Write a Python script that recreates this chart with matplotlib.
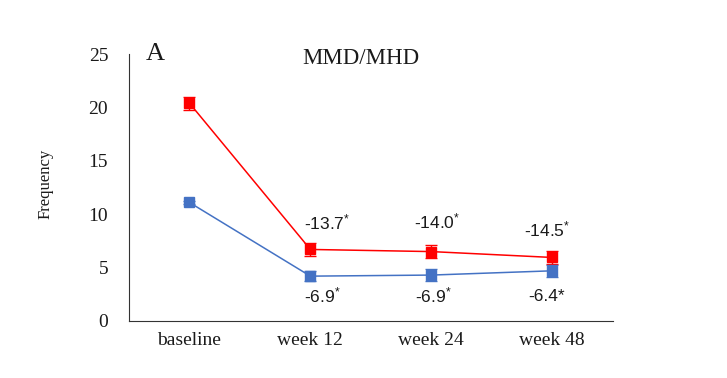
import numpy as np
from matplotlib import pyplot as plt

plt.rcParams['mathtext.fontset'] = 'custom'
plt.rcParams['mathtext.rm'] = 'Liberation Sans'
plt.rcParams['mathtext.it'] = 'Liberation Sans'

# data
categories = ['baseline', 'week 12', 'week 24', 'week 48']
red_vals = [20.4, 6.7, 6.5, 5.95]
red_err = [0.62, 0.62, 0.6, 0.58]
blue_vals = [11.1, 4.2, 4.3, 4.7]
blue_err = [0.1, 0.48, 0.58, 0.55]
red_labels = ['-13.7$^{*}$', '-14.0$^{*}$', '-14.5$^{*}$']
red_label_y = [9.2, 9.3, 8.6]
blue_labels = ['-6.9$^{*}$', '-6.9$^{*}$', '-6.4*']
blue_label_y = [2.4, 2.4, 2.25]

fig = plt.figure(figsize=(7.27, 3.78), dpi=100)
ax = fig.add_axes([0.1774, 0.1508, 0.6654, 0.7063])
x = np.arange(len(categories))

ax.errorbar(x, red_vals, yerr=red_err, color='#FF0000', marker='s', markersize=7,
            linewidth=1.1, capsize=4, elinewidth=1, capthick=1)
ax.errorbar(x, blue_vals, yerr=blue_err, color='#4472C4', marker='s', markersize=7,
            linewidth=1.1, capsize=4, elinewidth=1, capthick=1)

# small horizontal shifts of the change labels, as in the original
red_shift = [0.14, 0.05, -0.04]
blue_shift = [0.10, 0.02, -0.05]
for i in range(3):
    ax.text(x[i + 1] + red_shift[i], red_label_y[i], red_labels[i], ha='center',
            va='center', fontsize=12.5, family='Liberation Sans', color='#1a1a1a')
    ax.text(x[i + 1] + blue_shift[i], blue_label_y[i], blue_labels[i], ha='center',
            va='center', fontsize=12.5, family='Liberation Sans', color='#1a1a1a')

ax.set_xlim(-0.5, 3.5)
ax.set_ylim(0, 25)
ax.set_yticks([0, 5, 10, 15, 20, 25])
ax.set_xticks(x)
ax.set_xticklabels(categories)
for lab in ax.get_xticklabels() + ax.get_yticklabels():
    lab.set_family('Liberation Serif')
    lab.set_fontsize(14)
    lab.set_color('#1a1a1a')
ax.tick_params(length=0)
ax.tick_params(axis='y', pad=15)
ax.tick_params(axis='x', pad=8)
ax.spines['top'].set_visible(False)
ax.spines['right'].set_visible(False)
ax.spines['left'].set_color('#333333')
ax.spines['bottom'].set_color('#333333')
ax.set_ylabel('Frequency', family='Liberation Serif', fontsize=12, color='#1a1a1a')
ax.yaxis.set_label_coords(-0.157, 0.515)

ax.text(0.035, 1.0, 'A', transform=ax.transAxes, family='Liberation Serif',
        fontsize=19, va='center', ha='left', color='#1a1a1a')
ax.text(0.48, 0.985, 'MMD/MHD', transform=ax.transAxes, family='Liberation Serif',
        fontsize=16.5, va='center', ha='center', color='#1a1a1a')

plt.savefig('out.png', dpi=100)
